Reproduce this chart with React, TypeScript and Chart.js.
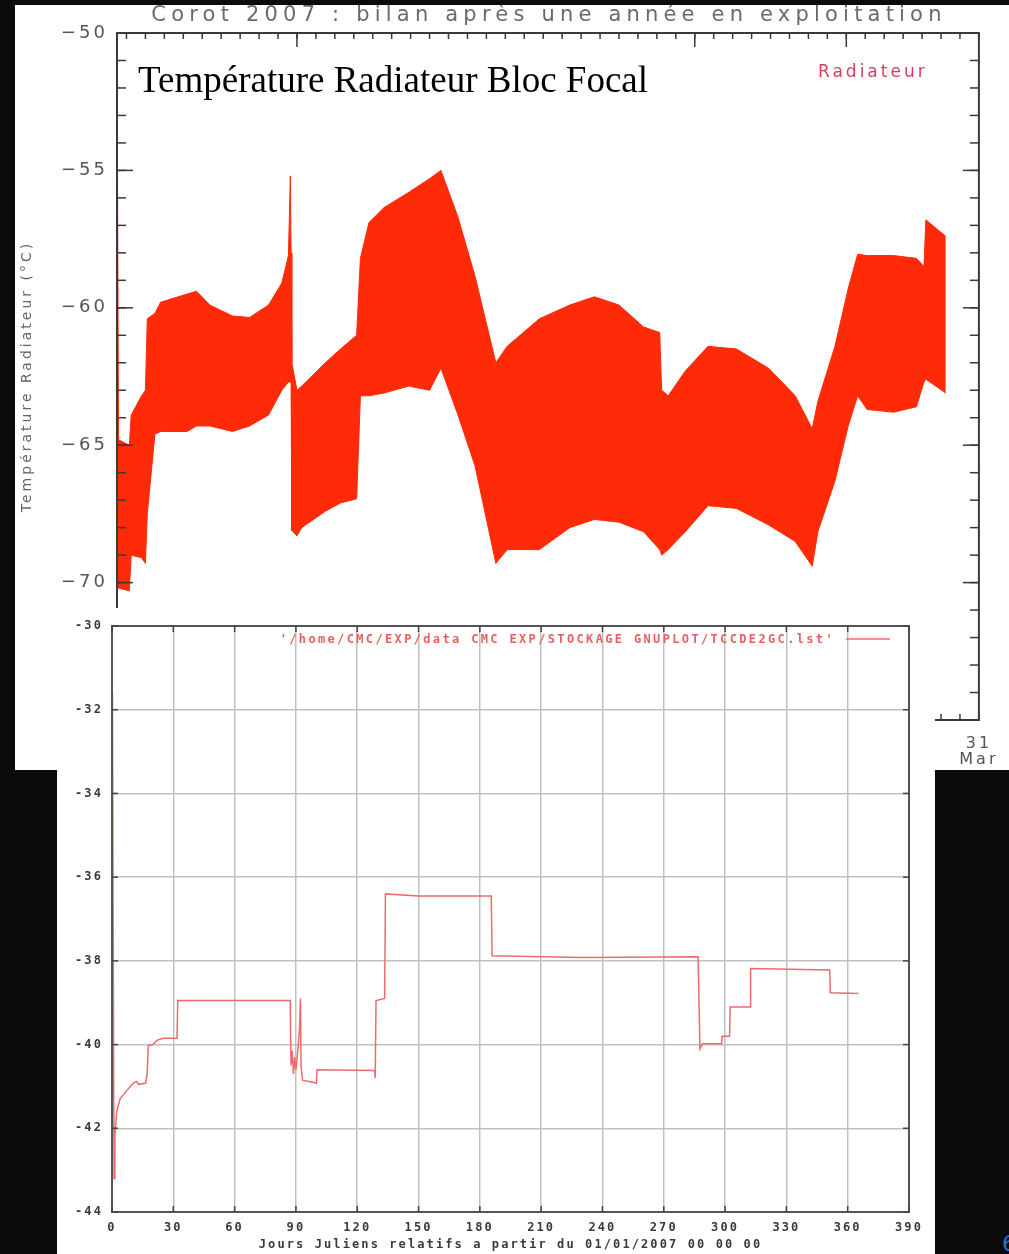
import React, { useEffect, useRef } from 'react';
import { Chart, registerables } from 'chart.js';

Chart.register(...registerables);

// ---------------- Top chart: radiator temperature (band) ----------------
const TOP_TITLE = 'Corot 2007 : bilan après une année en exploitation';
const TOP_OVERLAY = 'Température Radiateur Bloc Focal';
const TOP_LEGEND = 'Radiateur';
const TOP_Y_TITLE = 'Température Radiateur (°C)';

// days since 01/01/2007
const TOP_DAYS = [0, 0.8, 6.5, 7.5, 13, 15, 16, 20, 23, 37, 42, 49, 61, 70, 80, 87, 90.5, 91.5, 91.9, 92.3, 95, 97.5, 110, 118, 126.5, 128.5, 133, 141, 154, 165, 171, 180, 189, 200, 206, 223, 239, 252, 265, 278, 286.5, 287.5, 291, 300, 312, 327, 344, 358, 367, 370, 379, 386, 391, 396, 410, 422, 426, 427, 437.5];
const TOP_UPPER = [-50.2, -64.8, -65.0, -63.9, -63.2, -63.0, -60.4, -60.2, -59.8, -59.5, -59.4, -59.9, -60.3, -60.35, -59.9, -59.1, -58.1, -55.2, -58.0, -62.0, -63.0, -62.85, -62.0, -61.5, -61.0, -58.2, -56.9, -56.35, -55.8, -55.3, -55.0, -56.7, -58.85, -62.0, -61.4, -60.4, -59.9, -59.6, -59.9, -60.7, -60.9, -63.0, -63.2, -62.3, -61.4, -61.5, -62.2, -63.2, -64.4, -63.4, -61.4, -59.3, -58.05, -58.1, -58.1, -58.2, -58.5, -56.8, -57.4];
const TOP_LOWER = [-70.0, -70.2, -70.3, -69.0, -69.1, -69.3, -67.5, -64.6, -64.5, -64.5, -64.3, -64.3, -64.5, -64.3, -63.9, -63.0, -62.7, -62.7, -62.7, -68.1, -68.3, -68.0, -67.4, -67.1, -66.95, -63.2, -63.2, -63.1, -62.85, -63.0, -62.2, -63.9, -65.75, -69.3, -68.8, -68.8, -68.0, -67.7, -67.8, -68.15, -68.8, -69.0, -68.8, -68.15, -67.2, -67.3, -67.9, -68.5, -69.4, -68.15, -66.3, -64.3, -63.2, -63.7, -63.8, -63.6, -62.7, -62.6, -63.1];

const TOP_X_MIN = 0;
const TOP_X_MAX = 455;
const TOP_Y_MIN = -75;
const TOP_Y_MAX = -50;
const TOP_X_LABEL_DAYS = [455];
const TOP_X_LABELS = ['31 Mar'];
const TOP_X_MAJOR = [95, 305, 385];
const TOP_X_MINOR: number[] = [];
for (let d = 5; d <= 455; d += 10) TOP_X_MINOR.push(d);
const TOP_Y_MAJOR = [-70, -65, -60, -55];
const TOP_Y_MINOR: number[] = [];
for (let v = -74; v <= -51; v += 1) TOP_Y_MINOR.push(v);

// ---------------- Bottom chart: CCD temperature (gnuplot) ----------------
const BOTTOM_LEGEND = "'/home/CMC/EXP/data CMC EXP/STOCKAGE GNUPLOT/TCCDE2GC.lst'";
const BOTTOM_X_TITLE = 'Jours Juliens relatifs a partir du 01/01/2007 00 00 00';
const BOTTOM_DAYS = [0.2, 0.6, 1.0, 1.4, 2.3, 3.9, 7.2, 10.4, 12, 13, 16.5, 17.2, 17.8, 20, 22, 25, 31.8, 32.2, 60, 87.2, 87.6, 88.2, 88.8, 89.4, 90, 91, 91.8, 92.2, 92.5, 93.2, 100, 100.4, 128.5, 128.8, 129.2, 133.4, 133.8, 150, 185.6, 186, 230, 286.8, 287.7, 289, 298.3, 298.6, 302.2, 302.5, 312.2, 312.5, 351.2, 351.5, 365.2];
const BOTTOM_TEMPS = [-31.6, -37.5, -43.2, -42.2, -41.6, -41.3, -41.1, -40.92, -40.88, -40.95, -40.92, -40.7, -40.02, -40.0, -39.9, -39.85, -39.85, -38.95, -38.95, -38.95, -40.5, -40.15, -40.7, -40.3, -40.6, -40.1, -39.6, -38.9, -40.5, -40.85, -40.92, -40.6, -40.62, -40.8, -38.95, -38.9, -36.4, -36.45, -36.45, -37.88, -37.92, -37.9, -40.1, -39.98, -39.98, -39.8, -39.8, -39.1, -39.1, -38.18, -38.22, -38.76, -38.78];
const BOTTOM_X_MIN = 0;
const BOTTOM_X_MAX = 390;
const BOTTOM_X_STEP = 30;
const BOTTOM_Y_MIN = -44;
const BOTTOM_Y_MAX = -30;
const BOTTOM_Y_STEP = 2;
const BOTTOM_X_TICKS: number[] = [];
for (let d = BOTTOM_X_MIN; d <= BOTTOM_X_MAX; d += BOTTOM_X_STEP) BOTTOM_X_TICKS.push(d);
const BOTTOM_Y_TICKS: number[] = [];
for (let v = BOTTOM_Y_MIN; v <= BOTTOM_Y_MAX; v += BOTTOM_Y_STEP) BOTTOM_Y_TICKS.push(v);

const BAND_RED = '#fe2a08';
const LINE_RED = '#ef6a6a';

type TickSpec = { scale: string; side: 'left' | 'right' | 'top' | 'bottom'; values: number[]; len: number };
type TextSpec = { text: string; x: number; y: number; font: string; color: string; align: CanvasTextAlign; spacing: string };

function ticksPlugin(id: string, specs: TickSpec[], color: string, width: number) {
  return {
    id,
    afterDatasetsDraw(chart: any) {
      const { ctx, chartArea: a } = chart;
      ctx.save();
      ctx.strokeStyle = color;
      ctx.lineWidth = width;
      for (const s of specs) {
        const sc = chart.scales[s.scale];
        for (const v of s.values) {
          const p = sc.getPixelForValue(v);
          ctx.beginPath();
          if (s.side === 'left') { ctx.moveTo(a.left, p); ctx.lineTo(a.left + s.len, p); }
          if (s.side === 'right') { ctx.moveTo(a.right, p); ctx.lineTo(a.right - s.len, p); }
          if (s.side === 'top') { ctx.moveTo(p, a.top); ctx.lineTo(p, a.top + s.len); }
          if (s.side === 'bottom') { ctx.moveTo(p, a.bottom); ctx.lineTo(p, a.bottom - s.len); }
          ctx.stroke();
        }
      }
      ctx.restore();
    },
  };
}

function framePlugin(id: string, color: string, width: number) {
  return {
    id,
    afterDatasetsDraw(chart: any) {
      const { ctx, chartArea: a } = chart;
      ctx.save();
      ctx.strokeStyle = color;
      ctx.lineWidth = width;
      ctx.strokeRect(a.left, a.top, a.right - a.left, a.bottom - a.top);
      ctx.restore();
    },
  };
}

function textPlugin(id: string, texts: TextSpec[], extra?: (chart: any) => void) {
  return {
    id,
    afterDraw(chart: any) {
      const ctx = chart.ctx;
      for (const t of texts) {
        ctx.save();
        (ctx as any).letterSpacing = t.spacing;
        ctx.font = t.font;
        ctx.fillStyle = t.color;
        ctx.textAlign = t.align;
        ctx.textBaseline = 'alphabetic';
        ctx.fillText(t.text, t.x, t.y);
        ctx.restore();
      }
      if (extra) extra(chart);
    },
  };
}

function spacingPlugin(id: string, spacing: string) {
  return {
    id,
    beforeDraw(chart: any) { (chart.ctx as any).letterSpacing = spacing; },
    afterDraw(chart: any) { (chart.ctx as any).letterSpacing = '0px'; },
  };
}

export default function App() {
  const topRef = useRef<HTMLCanvasElement>(null);
  const botRef = useRef<HTMLCanvasElement>(null);

  useEffect(() => {
    const charts: Chart[] = [];
    if (topRef.current) {
      charts.push(new Chart(topRef.current, {
        type: 'line',
        data: {
          datasets: [
            {
              data: TOP_DAYS.map((d, i) => ({ x: d, y: TOP_LOWER[i] })),
              borderColor: BAND_RED, borderWidth: 1, pointRadius: 0, fill: false, tension: 0,
            },
            {
              data: TOP_DAYS.map((d, i) => ({ x: d, y: TOP_UPPER[i] })),
              borderColor: BAND_RED, borderWidth: 1, pointRadius: 0, fill: '-1', backgroundColor: BAND_RED, tension: 0,
            },
          ],
        },
        options: {
          responsive: false,
          animation: false,
          events: [],
          layout: { padding: { left: 0, top: 28, right: 24, bottom: 0 } },
          plugins: { legend: { display: false }, tooltip: { enabled: false }, title: { display: false } },
          scales: {
            x: {
              type: 'linear', min: TOP_X_MIN, max: TOP_X_MAX,
              grid: { display: false, drawTicks: false }, border: { display: false },
              afterBuildTicks: (s: any) => { s.ticks = TOP_X_LABEL_DAYS.map((v) => ({ value: v })); },
              afterFit: (s: any) => { s.height = 50; },
              ticks: {
                padding: 15, maxRotation: 0, autoSkip: false, color: '#555',
                font: { family: 'DejaVu Sans', size: 16, lineHeight: 1.05 },
                callback: (v: any) => {
                  const i = TOP_X_LABEL_DAYS.indexOf(Number(v));
                  return i >= 0 ? TOP_X_LABELS[i].split(' ') : '';
                },
              },
            },
            y: {
              type: 'linear', min: TOP_Y_MIN, max: TOP_Y_MAX,
              grid: { display: false, drawTicks: false }, border: { display: false },
              afterFit: (s: any) => { s.width = 102; },
              ticks: {
                stepSize: 5, padding: 9, color: '#555',
                font: { family: 'DejaVu Sans', size: 18 },
                callback: (v: any) => String(v).replace('-', '\u2212'),
              },
              title: {
                display: true, text: TOP_Y_TITLE, color: '#666',
                font: { family: 'DejaVu Sans', size: 14 }, padding: { top: 4, bottom: 0 },
              },
            },
          },
        },
        plugins: [
          spacingPlugin('topSpacing', '3px'),
          framePlugin('topFrame', '#3a3a3a', 2),
          ticksPlugin('topTicks', [
            { scale: 'y', side: 'left', values: TOP_Y_MINOR, len: 9 },
            { scale: 'y', side: 'left', values: TOP_Y_MAJOR, len: 16 },
            { scale: 'y', side: 'right', values: TOP_Y_MINOR, len: 9 },
            { scale: 'y', side: 'right', values: TOP_Y_MAJOR, len: 16 },
            { scale: 'x', side: 'top', values: TOP_X_MINOR, len: 6 },
            { scale: 'x', side: 'top', values: TOP_X_MAJOR, len: 14 },
            { scale: 'x', side: 'bottom', values: TOP_X_MINOR, len: 6 },
            { scale: 'x', side: 'bottom', values: TOP_X_MAJOR, len: 14 },
          ], '#3a3a3a', 1.5),
          textPlugin('topTexts', [
            { text: TOP_TITLE, x: 534, y: 16, font: '21px "DejaVu Sans"', color: '#6a6a6a', align: 'center', spacing: '5.2px' },
            { text: TOP_OVERLAY, x: 123, y: 87, font: '37px "Liberation Serif"', color: '#000', align: 'left', spacing: '0px' },
            { text: TOP_LEGEND, x: 803, y: 72, font: '17px "DejaVu Sans"', color: '#d8405a', align: 'left', spacing: '3px' },
          ]),
        ],
      } as any));
    }

    if (botRef.current) {
      const monoFont = { family: 'DejaVu Sans Mono', size: 12, weight: 'bold' };
      charts.push(new Chart(botRef.current, {
        type: 'line',
        data: {
          datasets: [
            {
              data: BOTTOM_DAYS.map((d, i) => ({ x: d, y: BOTTOM_TEMPS[i] })),
              borderColor: LINE_RED, borderWidth: 1.5, pointRadius: 0, fill: false, tension: 0,
            },
          ],
        },
        options: {
          responsive: false,
          animation: false,
          events: [],
          layout: { padding: { left: 0, top: 18, right: 26, bottom: 0 } },
          plugins: { legend: { display: false }, tooltip: { enabled: false }, title: { display: false } },
          scales: {
            x: {
              type: 'linear', min: BOTTOM_X_MIN, max: BOTTOM_X_MAX,
              grid: { color: '#c0c0c0', lineWidth: 1.5, drawTicks: false }, border: { display: false },
              afterBuildTicks: (s: any) => { s.ticks = BOTTOM_X_TICKS.map((v) => ({ value: v })); },
              afterFit: (s: any) => { s.height = 42; },
              ticks: { padding: 9, maxRotation: 0, autoSkip: false, color: '#3a3a3a', font: monoFont },
              title: { display: true, text: BOTTOM_X_TITLE, color: '#3a3a3a', font: monoFont, padding: { top: 0, bottom: 2 } },
            },
            y: {
              type: 'linear', min: BOTTOM_Y_MIN, max: BOTTOM_Y_MAX,
              grid: { color: '#c0c0c0', lineWidth: 1.5, drawTicks: false }, border: { display: false },
              afterBuildTicks: (s: any) => { s.ticks = BOTTOM_Y_TICKS.map((v) => ({ value: v })); },
              afterFit: (s: any) => { s.width = 55; },
              ticks: { padding: 9, color: '#3a3a3a', font: monoFont },
            },
          },
        },
        plugins: [
          spacingPlugin('botSpacing', '2.1px'),
          framePlugin('botFrame', '#555', 2),
          ticksPlugin('botTicks', [
            { scale: 'y', side: 'left', values: BOTTOM_Y_TICKS, len: 6 },
            { scale: 'y', side: 'right', values: BOTTOM_Y_TICKS, len: 6 },
            { scale: 'x', side: 'top', values: BOTTOM_X_TICKS, len: 6 },
            { scale: 'x', side: 'bottom', values: BOTTOM_X_TICKS, len: 6 },
          ], '#444', 1.5),
          textPlugin('botTexts', [
            { text: BOTTOM_LEGEND, x: 778, y: 35, font: 'bold 12px "DejaVu Sans Mono"', color: '#e86060', align: 'right', spacing: '2.35px' },
          ], (chart: any) => {
            const ctx = chart.ctx;
            ctx.save();
            ctx.strokeStyle = LINE_RED;
            ctx.lineWidth = 1.5;
            ctx.beginPath();
            ctx.moveTo(789, 31);
            ctx.lineTo(833, 31);
            ctx.stroke();
            ctx.restore();
          }),
        ],
      } as any));
    }
    return () => charts.forEach((c) => c.destroy());
  }, []);

  return (
    <div style={{ position: 'fixed', left: 0, top: 0, width: 1009, height: 1254, background: '#0b0b0b', overflow: 'hidden' }}>
      <canvas ref={topRef} width={994} height={765}
        style={{ position: 'absolute', left: 15, top: 5, width: 994, height: 765, background: '#fff' }} />
      <canvas ref={botRef} width={878} height={646}
        style={{ position: 'absolute', left: 57, top: 608, width: 878, height: 646, background: '#fff' }} />
      <span style={{ position: 'absolute', left: 1002, top: 1231, color: '#1f6fd6', font: '22px "DejaVu Sans"' }}>6</span>
    </div>
  );
}
